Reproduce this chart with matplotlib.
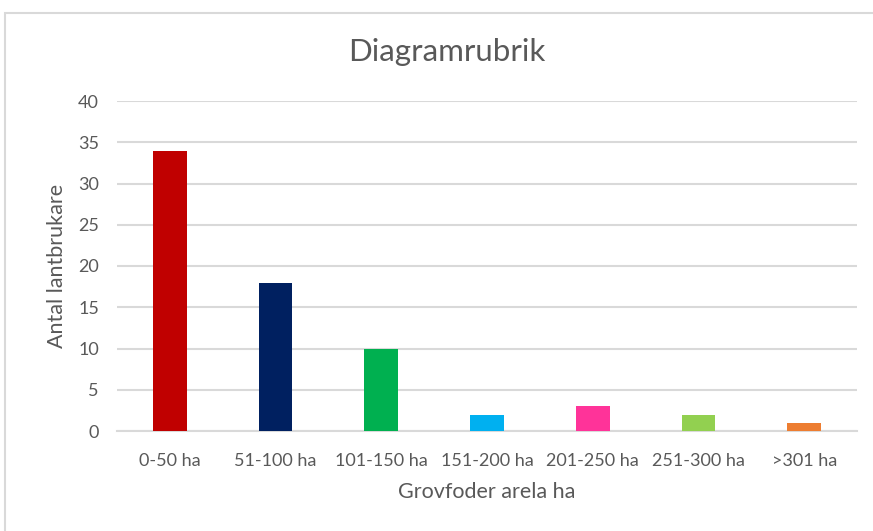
import matplotlib.pyplot as plt
from matplotlib.patches import Rectangle

categories = ["0-50 ha", "51-100 ha", "101-150 ha", "151-200 ha", "201-250 ha", "251-300 ha", ">301 ha"]
counts = [34, 18, 10, 2, 3, 2, 1]
colors = ["#C00000", "#002060", "#00B050", "#00B0F0", "#FF3399", "#92D050", "#ED7D31"]
yticks = [0, 5, 10, 15, 20, 25, 30, 35, 40]

plt.rcParams["font.family"] = ["Lato", "DejaVu Sans"]
text_color = "#595959"
grid_color = "#d9d9d9"

fig = plt.figure(figsize=(8.73, 5.31), dpi=100)
fig.patches.append(Rectangle((4.5 / 873, -0.1), 1.2, (531 - 12.5) / 531 + 0.1,
                             transform=fig.transFigure, fill=False,
                             edgecolor=grid_color, linewidth=1.5))

ax = fig.add_axes([117 / 873, 1 - 431 / 531, 740 / 873, 330 / 531])
ax.bar(range(len(categories)), counts, width=0.32, color=colors, zorder=3)
ax.set_xlim(-0.5, len(categories) - 0.5)
ax.set_ylim(0, 40)
ax.set_yticks(yticks)
ax.set_xticks(range(len(categories)))
ax.set_xticklabels(categories)
ax.yaxis.grid(True, color=grid_color, linewidth=1.5, zorder=0)
ax.set_axisbelow(True)
for side in ["top", "right", "left"]:
    ax.spines[side].set_visible(False)
ax.spines["bottom"].set_color(grid_color)
ax.spines["bottom"].set_linewidth(1.5)
ax.tick_params(axis="both", length=0, labelsize=13, colors=text_color)
ax.tick_params(axis="x", pad=16)
ax.tick_params(axis="y", pad=13)

ax.set_xlabel("Grovfoder arela ha", fontsize=15.5, color=text_color, labelpad=9)
ax.set_ylabel("Antal lantbrukare", fontsize=15.5, color=text_color, labelpad=8)
fig.text(447 / 873, 1 - 52 / 531, "Diagramrubrik", ha="center", va="center",
         fontsize=22.5, color=text_color)

fig.savefig("out.png", dpi=100)
